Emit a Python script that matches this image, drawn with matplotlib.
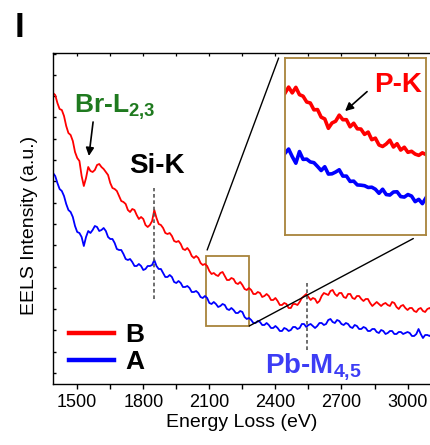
import matplotlib
matplotlib.use('Agg')
import matplotlib.pyplot as plt
from matplotlib.patches import Rectangle, ConnectionPatch

plt.rcParams['font.family'] = ['Liberation Sans', 'DejaVu Sans']
plt.rcParams['mathtext.fontset'] = 'custom'
plt.rcParams['mathtext.rm'] = 'Liberation Sans'
plt.rcParams['mathtext.bf'] = 'Liberation Sans:bold'
plt.rcParams['mathtext.default'] = 'bf'

# ---------------- data ----------------
energy = list(range(1390, 3111, 10))
intensity_B = [291, 289, 281, 275, 274, 268, 258, 251, 249, 243,
               232, 226, 223, 208, 198, 206, 217, 213, 212, 214,
               219, 220, 217, 215, 212, 209, 201, 196, 195, 193,
               188, 183, 182, 180, 174, 172, 175, 174, 169, 165,
               167, 165, 159, 157, 159, 163, 174, 166, 160, 159,
               156, 151, 150, 151, 148, 143, 142, 143, 140, 135,
               134, 136, 133, 128, 126, 128, 126, 121, 119, 120,
               118, 113, 110, 111, 109, 108, 111, 112, 108, 104,
               104, 106, 105, 101, 100, 102, 99, 95, 94, 96,
               94, 90, 90, 92, 91, 87, 88, 90, 88, 84,
               84, 86, 83, 79, 79, 81, 80, 76, 76, 80,
               80, 79, 82, 86, 88, 90, 87, 84, 86, 85,
               81, 83, 88, 91, 90, 89, 93, 94, 90, 88,
               91, 91, 87, 86, 90, 90, 86, 85, 88, 88,
               85, 83, 85, 85, 81, 78, 80, 82, 80, 78,
               80, 81, 79, 78, 82, 81, 77, 75, 78, 79,
               76, 74, 76, 76, 73, 72, 75, 76, 73, 72,
               75, 76, 74]
intensity_A = [211, 208, 201, 195, 193, 188, 180, 174, 172, 167,
               158, 152, 151, 147, 138, 147, 153, 151, 154, 158,
               157, 153, 154, 156, 153, 147, 145, 145, 141, 135,
               134, 134, 130, 125, 124, 125, 122, 118, 118, 120,
               118, 114, 115, 118, 118, 119, 124, 118, 115, 115,
               111, 107, 107, 109, 107, 102, 101, 103, 101, 97,
               97, 98, 96, 92, 92, 93, 91, 87, 86, 88,
               86, 81, 80, 82, 80, 77, 78, 80, 79, 75,
               74, 76, 74, 71, 71, 73, 72, 67, 65, 66,
               64, 61, 61, 63, 62, 59, 59, 61, 59, 56,
               56, 58, 56, 53, 53, 56, 55, 53, 54, 57,
               57, 55, 56, 60, 60, 57, 59, 60, 58, 56,
               58, 61, 61, 59, 60, 64, 65, 62, 61, 64,
               63, 60, 59, 61, 60, 57, 56, 59, 58, 55,
               55, 57, 56, 53, 53, 55, 55, 52, 51, 54,
               53, 50, 51, 53, 53, 50, 50, 52, 52, 50,
               51, 52, 51, 48, 48, 50, 55, 50, 46, 49,
               49, 48, 50]

inset_energy = list(range(2086, 2282, 5))
inset_B = [114.1, 116.5, 114.2, 116.4, 113.5, 112.9, 110.6, 110.2, 107.5, 107.6,
           104.6, 103.9, 100.2, 102.3, 103.0, 105.4, 103.6, 103.6, 100.8, 102.2,
           100.0, 99.9, 97.8, 98.7, 95.7, 96.3, 93.6, 93.0, 94.0, 95.5,
           92.8, 94.1, 91.6, 92.7, 90.7, 91.1, 90.0, 89.5, 90.5, 89.8]
inset_A = [90.3, 92.0, 89.0, 86.4, 91.0, 87.9, 88.0, 86.9, 86.6, 85.1,
           83.5, 85.0, 82.1, 82.2, 82.9, 83.8, 81.3, 81.3, 79.2, 79.3,
           77.8, 77.7, 77.5, 76.8, 76.9, 76.1, 74.5, 76.1, 74.0, 73.8,
           75.0, 75.1, 73.2, 73.0, 74.0, 73.4, 71.2, 72.1, 70.4, 72.7]

series_labels = ['B', 'A']
series_colors = ['#FF0000', '#0000FF']

edge_energy = [1850, 2544]
edge_ymin = [85, 34]
edge_ymax = [196, 102]

zoom_x = (2086, 2281)
zoom_y = (58, 128)

xticks_major = [1500, 1800, 2100, 2400, 2700, 3000]
xticks_minor = [1650, 1950, 2250, 2550, 2850]

# ---------------- figure ----------------
fig = plt.figure(figsize=(4.30, 4.45), dpi=100)
ax = fig.add_axes([53/430, 1-384/445, 377/430, 331/445])

lB, = ax.plot(energy, intensity_B, color=series_colors[0], lw=1.3)
lA, = ax.plot(energy, intensity_A, color=series_colors[1], lw=1.3)

ax.set_xlim(1390, 3102)
ax.set_ylim(0, 331)
ax.set_xticks(xticks_major)
ax.set_xticks(xticks_minor, minor=True)
ax.set_yticks([11 + 21.3*k for k in range(16)])
ax.set_yticklabels([])
ax.tick_params(axis='x', which='both', direction='out', length=3.5, width=1.0,
               labelsize=13, pad=4)
ax.tick_params(axis='y', which='both', direction='in', length=2.5, width=1.0)
ax.spines['right'].set_visible(False)
for s in ['left', 'bottom', 'top']:
    ax.spines[s].set_linewidth(1.0)

top = ax.secondary_xaxis('top')
top.set_xticks(xticks_major + xticks_minor)
top.tick_params(direction='in', length=2.5, width=0.9, labeltop=False)
top.spines['top'].set_visible(False)

ax.set_xlabel('Energy Loss (eV)', fontsize=14, labelpad=2)
ax.set_ylabel('EELS Intensity (a.u.)', fontsize=14)
ax.yaxis.set_label_coords(-0.04, 0.48)

ax.vlines(edge_energy, edge_ymin, edge_ymax, colors='#555555', lw=1.2,
          linestyles=(0, (2.2, 1.6)))

# annotations
ax.text(1485, 271, 'Br-L$_{2{,}3}$', color='#1F7A1F', fontsize=19,
        fontweight='bold', va='baseline')
ax.annotate('', xy=(1553, 228), xytext=(1572, 262),
            arrowprops=dict(arrowstyle='-|>', color='k', lw=1.2,
                            mutation_scale=12, shrinkA=0, shrinkB=0))
ax.text(1735, 211, 'Si-K', color='k', fontsize=20, fontweight='bold',
        va='baseline')
ax.text(2352, 11, 'Pb-M$_{4{,}5}$', color='#3D3DF5', fontsize=20,
        fontweight='bold', va='baseline')

# zoom rectangle
box_color = '#A8843C'
ax.add_patch(Rectangle((zoom_x[0], zoom_y[0]), zoom_x[1]-zoom_x[0],
                       zoom_y[1]-zoom_y[0], fill=False, ec=box_color, lw=1.3))

# legend
leg = ax.legend(handles=[lB, lA], labels=series_labels, loc='lower left',
                bbox_to_anchor=(0.042, 0.03), frameon=False,
                prop={'weight': 'bold', 'size': 19}, handlelength=1.7,
                handletextpad=0.45, labelspacing=0.1, borderpad=0,
                borderaxespad=0)
for l in leg.get_lines():
    l.set_linewidth(3.2)

# inset
axins = fig.add_axes([285/430, 1-235/445, 141/430, 177/445])
axins.plot(inset_energy, inset_B, color=series_colors[0], lw=2.6)
axins.plot(inset_energy, inset_A, color=series_colors[1], lw=2.6)
axins.set_xlim(*zoom_x)
axins.set_ylim(*zoom_y)
axins.set_xticks([])
axins.set_yticks([])
for s in axins.spines.values():
    s.set_edgecolor(box_color)
    s.set_linewidth(1.3)
axins.text(0.63, 0.81, 'P-K', transform=axins.transAxes, color='#FF0000',
           fontsize=20, fontweight='bold', va='baseline')
axins.annotate('', xy=(0.426, 0.70), xytext=(0.582, 0.81),
               xycoords='axes fraction', textcoords='axes fraction',
               arrowprops=dict(arrowstyle='-|>', color='k', lw=1.2,
                               mutation_scale=12, shrinkA=0, shrinkB=0))

# connector lines
c1 = ConnectionPatch(xyA=(2090, 134), coordsA=ax.transData,
                     xyB=(-0.045, 1.0), coordsB=axins.transAxes,
                     color='k', lw=1.0)
c2 = ConnectionPatch(xyA=(zoom_x[1], zoom_y[0]), coordsA=ax.transData,
                     xyB=(0.91, -0.02), coordsB=axins.transAxes,
                     color='k', lw=1.0)
fig.add_artist(c1)
fig.add_artist(c2)

fig.text(15/430, 1-37/445, 'I', fontsize=25, fontweight='bold', va='baseline')

fig.savefig('out.png', dpi=100)
